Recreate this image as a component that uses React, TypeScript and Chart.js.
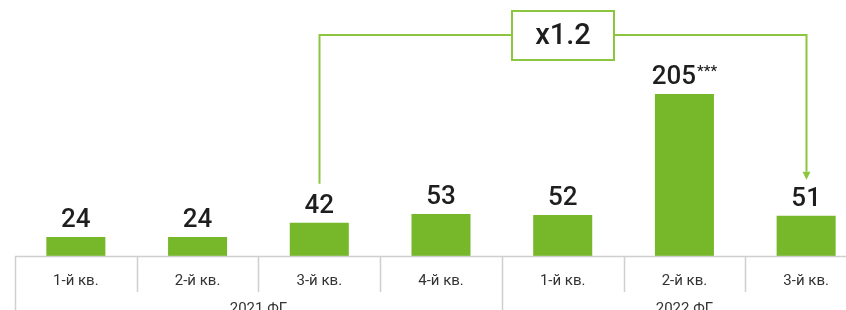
import React, { useEffect, useRef } from "react";
import { Chart, registerables } from "chart.js";

Chart.register(...registerables);

const categories = ["1-й кв.", "2-й кв.", "3-й кв.", "4-й кв.", "1-й кв.", "2-й кв.", "3-й кв."];
const values = [24, 24, 42, 53, 52, 205, 51];
const valueLabels = ["24", "24", "42", "53", "52", "205", "51"];
const labelSuffix = ["", "", "", "", "", "***", ""];
const groups = ["2021 ФГ", "2022 ФГ"];
const groupSpans = [[0, 3], [4, 6]];
const growthLabel = "x1.2";
const growthFrom = 2;
const growthTo = 6;

const BAR = "#77b82a";
const LINE = "#8cc63f";
const GRID = "#cfcfcf";
const TEXT = "#1e1e1e";
const FONT = "Roboto, 'Noto Sans', sans-serif";

const overlay = {
  id: "overlay",
  afterDraw(chart: any) {
    const ctx = chart.ctx as CanvasRenderingContext2D;
    const x = chart.scales.x;
    const y = chart.scales.y;
    const base = y.getPixelForValue(0);
    const n = categories.length;
    const step = (x.getPixelForValue(1) - x.getPixelForValue(0));
    const edge = (i: number) => x.getPixelForValue(i) - step / 2;
    ctx.save();
    // axis line
    ctx.strokeStyle = GRID;
    ctx.lineWidth = 1.5;
    ctx.beginPath();
    ctx.moveTo(edge(0), base + 0.5);
    ctx.lineTo(edge(n), base + 0.5);
    ctx.stroke();
    // separators
    const groupStarts = groupSpans.map((g) => g[0]);
    for (let i = 0; i <= n; i++) {
      const isGroup = groupStarts.includes(i) || i === n;
      const px = Math.round(edge(i)) + 0.5;
      ctx.beginPath();
      ctx.moveTo(px, base);
      ctx.lineTo(px, isGroup ? chart.height : base + 36);
      ctx.stroke();
    }
    // category labels
    ctx.fillStyle = "#333";
    ctx.font = `15px ${FONT}`;
    ctx.textAlign = "center";
    ctx.textBaseline = "middle";
    categories.forEach((c, i) => ctx.fillText(c, x.getPixelForValue(i), base + 25));
    groups.forEach((g, gi) => {
      const [a, b] = groupSpans[gi];
      const cx = (edge(a) + edge(b + 1)) / 2;
      ctx.fillText(g, cx, base + 53);
    });
    // value labels
    const meta = chart.getDatasetMeta(0);
    ctx.fillStyle = TEXT;
    ctx.textBaseline = "alphabetic";
    meta.data.forEach((bar: any, i: number) => {
      ctx.font = `500 26px ${FONT}`;
      const main = valueLabels[i];
      const suf = labelSuffix[i];
      const mw = ctx.measureText(main).width;
      ctx.font = `500 15px ${FONT}`;
      const sw = suf ? ctx.measureText(suf).width + 1 : 0;
      const total = mw + sw;
      const left = bar.x - total / 2;
      ctx.textAlign = "left";
      ctx.font = `500 26px ${FONT}`;
      ctx.fillText(main, left, bar.y - 10);
      if (suf) {
        ctx.font = `500 15px ${FONT}`;
        ctx.fillText(suf, left + mw + 1, bar.y - 18);
      }
    });
    // growth annotation
    const b1 = meta.data[growthFrom];
    const b2 = meta.data[growthTo];
    const lineY = 35;
    const x1 = Math.round(b1.x) + 0.5;
    const x2 = Math.round(b2.x) + 0.5;
    const boxW = 102;
    const boxH = 50;
    const cx = (x1 + x2) / 2;
    ctx.strokeStyle = LINE;
    ctx.lineWidth = 2;
    ctx.beginPath();
    ctx.moveTo(x1, b1.y - 39);
    ctx.lineTo(x1, lineY);
    ctx.lineTo(cx - boxW / 2, lineY);
    ctx.moveTo(cx + boxW / 2, lineY);
    ctx.lineTo(x2, lineY);
    ctx.lineTo(x2, b2.y - 44);
    ctx.stroke();
    ctx.fillStyle = LINE;
    ctx.beginPath();
    ctx.moveTo(x2 - 4, b2.y - 44);
    ctx.lineTo(x2 + 4, b2.y - 44);
    ctx.lineTo(x2, b2.y - 36);
    ctx.closePath();
    ctx.fill();
    ctx.strokeRect(cx - boxW / 2, 11, boxW, boxH - 1);
    ctx.fillStyle = TEXT;
    ctx.font = `500 29px ${FONT}`;
    ctx.textAlign = "center";
    ctx.textBaseline = "middle";
    ctx.fillText(growthLabel, cx, 37);
    ctx.restore();
  },
};

export default function App() {
  const ref = useRef<HTMLCanvasElement>(null);
  useEffect(() => {
    if (!ref.current) return;
    const chart = new Chart(ref.current, {
      type: "bar",
      data: {
        labels: categories,
        datasets: [
          {
            data: values,
            backgroundColor: BAR,
            borderWidth: 0,
            categoryPercentage: 1,
            barPercentage: 0.485,
          },
        ],
      },
      options: {
        responsive: false,
        animation: false,
        layout: { padding: { left: 15, right: 13, top: 0, bottom: 54 } },
        plugins: { legend: { display: false }, tooltip: { enabled: false } },
        scales: {
          x: { display: false },
          y: { display: false, min: 0, max: 324 },
        },
      },
      plugins: [overlay],
    });
    return () => chart.destroy();
  }, []);
  return (
    <div style={{ position: "fixed", left: 0, top: 0, width: 846, height: 310, overflow: "hidden", background: "#fff" }}>
      <canvas ref={ref} width={880} height={310} style={{ width: 880, height: 310, display: "block" }} />
    </div>
  );
}
